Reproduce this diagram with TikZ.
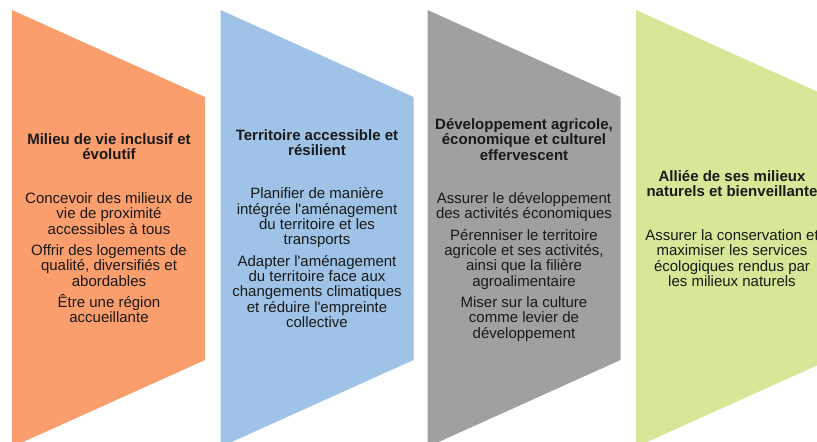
\documentclass[tikz,border=0pt]{standalone}
\usepackage{fontspec}
\setmainfont{Liberation Sans}
\definecolor{porange}{RGB}{250,158,110}
\definecolor{pblue}{RGB}{158,195,230}
\definecolor{pgray}{RGB}{160,160,160}
\definecolor{pgreen}{RGB}{214,231,152}
\definecolor{txt}{RGB}{25,25,25}
\newcommand{\ap}{\textquotesingle}
\begin{document}
\begin{tikzpicture}[x=0.75pt,y=-0.75pt,
  ttl/.style={font=\fontsize{11.25}{11.5}\selectfont\bfseries, align=center, inner sep=0pt, anchor=base, text=txt},
  bdy/.style={font=\fontsize{11.25}{11.5}\selectfont, align=center, inner sep=0pt, anchor=base, text=txt}]
\clip (0,0) rectangle (817,442);
\fill[white] (0,0) rectangle (817,442);
% panels
\fill[porange] (12,10) -- (205,97) -- (205,360) -- (12,447) -- cycle;
\fill[pblue] (220.5,10) -- (413.5,97) -- (413.5,360) -- (220.5,447) -- cycle;
\fill[pgray] (427.5,10) -- (620.5,97) -- (620.5,360) -- (427.5,447) -- cycle;
\fill[pgreen] (636,10) -- (829,97) -- (829,360) -- (636,447) -- cycle;
% panel 1 (anchor = baseline of last line)
\node[ttl] (t1) at (109,159.8) {Milieu de vie inclusif et\\évolutif};
\node[bdy] (b1) at (109,322.8) {Concevoir des milieux de\\vie de proximité\\accessibles à tous\\[4.5pt]Offrir des logements de\\qualité, diversifiés et\\abordables\\[4.5pt]Être une région\\accueillante};
% panel 2
\node[ttl] (t2) at (317,155.8) {Territoire accessible et\\résilient};
\node[bdy] (b2) at (317,327.5) {Planifier de manière\\intégrée l\ap aménagement\\du territoire et les\\transports\\[4.5pt]Adapter l\ap aménagement\\du territoire face aux\\changements climatiques\\et réduire l\ap empreinte\\collective};
% panel 3
\node[ttl] (t3) at (524,160.2) {Développement agricole,\\économique et culturel\\effervescent};
\node[bdy] (b3) at (524,338.2) {Assurer le développement\\des activités économiques\\[4.5pt]Pérenniser le territoire\\agricole et ses activités,\\ainsi que la filière\\agroalimentaire\\[4.5pt]Miser sur la culture\\comme levier de\\développement};
% panel 4
\node[ttl] (t4) at (732,196.8) {Alliée de ses milieux\\naturels et bienveillante};
\node[bdy] (b4) at (732,286.5) {Assurer la conservation et\\maximiser les services\\écologiques rendus par\\les milieux naturels};
\end{tikzpicture}
\end{document}
